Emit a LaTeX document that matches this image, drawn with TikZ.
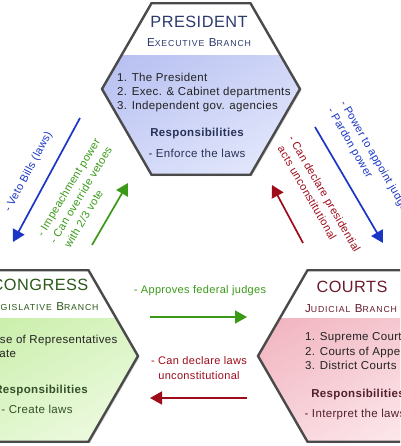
\documentclass[tikz,border=0pt]{standalone}
\usepackage{fontspec}
\setmainfont{Liberation Sans}[LetterSpace=3]
\usepackage{tikz}
\usetikzlibrary{arrows.meta,shapes.geometric,shadows}
\definecolor{presblue}{HTML}{B2BCF0}
\definecolor{preslight}{HTML}{E0E5FB}
\definecolor{presink}{HTML}{2C3A6E}
\definecolor{presresp}{HTML}{283258}
\definecolor{congreen}{HTML}{C2EC9E}
\definecolor{conlight}{HTML}{EAF9DC}
\definecolor{conink}{HTML}{2A5818}
\definecolor{conresp}{HTML}{33502A}
\definecolor{courtpink}{HTML}{F0B0BC}
\definecolor{courtlight}{HTML}{FCE6EA}
\definecolor{courtink}{HTML}{6A1C2C}
\definecolor{courtresp}{HTML}{52202E}
\definecolor{hexborder}{HTML}{4A4A4A}
\definecolor{arrowblue}{HTML}{1B36C6}
\definecolor{arrowgreen}{HTML}{3A9A18}
\definecolor{arrowred}{HTML}{9E0C1C}
\definecolor{listgray}{HTML}{222222}
\newcommand\capsc[2]{#1{\fontsize{8.7}{10}\selectfont #2}}
\tikzset{
  branchhex/.style n args={3}{
    regular polygon,
    regular polygon sides=6,
    minimum size=198pt,
    inner sep=0pt,
    outer sep=0pt,
    draw=hexborder,
    line width=2.4pt,
    drop shadow={shadow xshift=1.5pt,shadow yshift=-1.5pt,opacity=0.3},
    path picture={
      \shade[top color=#1,bottom color=#2,shading angle=30]
        (path picture bounding box.south west) rectangle (path picture bounding box.north east);
      \fill[white] (path picture bounding box.north west)
        rectangle ([yshift=-#3]path picture bounding box.north east);
    }
  },
  branchtitle/.style={
    font=\fontsize{16.3}{18}\selectfont,
    anchor=base,
    inner sep=0pt
  },
  branchsub/.style={
    font=\fontsize{11.6}{13}\selectfont\addfontfeature{LetterSpace=10},
    anchor=base,
    inner sep=0pt
  },
  branchlist/.style={
    font=\fontsize{11.5}{14.3}\selectfont,
    align=left,
    anchor=north west,
    inner sep=0pt,
    text=listgray
  },
  resphead/.style={
    font=\bfseries\fontsize{11.5}{14}\selectfont,
    anchor=base,
    inner sep=0pt
  },
  respitem/.style={
    font=\fontsize{11.5}{14}\selectfont,
    anchor=base,
    inner sep=0pt
  },
  checknote/.style={
    font=\fontsize{11}{14.5}\selectfont,
    align=left,
    anchor=north west,
    inner sep=0pt
  },
  checkarrow/.style={
    -{Triangle[length=12pt,width=13pt]},
    line width=1.7pt
  }
}
\begin{document}
\begin{tikzpicture}[x=1pt,y=-1pt]
    \useasboundingbox (0,0) rectangle (400,446);
    \fill[white] (0,0) rectangle (400,446);
    \clip (0,0) rectangle (400,446);

    \node[branchhex={presblue}{preslight}{52pt}] (president) at (201,89) {};
    \node[branchhex={congreen}{conlight}{48pt}] (congress) at (39,356) {};
    \node[branchhex={courtpink}{courtlight}{48pt}] (courts) at (357,356) {};

    \node[branchtitle, text=presink] (prestitle) at (199,28) {PRESIDENT};
    \node[branchsub, text=presink] (pressub) at (199,47) {\capsc{E}{XECUTIVE} \capsc{B}{RANCH}};
    \node[branchlist] (preslist) at (117,72.6) {1. The President\\2. Exec. \& Cabinet departments\\3. Independent gov. agencies};
    \node[resphead, text=presresp] (presresp) at (197,137) {Responsibilities};
    \node[respitem, text=presresp] (presduty) at (197,158) {- Enforce the laws};

    \node[branchtitle, text=conink] (contitle) at (40,290) {CONGRESS};
    \node[branchsub, text=conink] (consub) at (43,310) {\capsc{L}{EGISLATIVE} \capsc{B}{RANCH}};
    \node[branchlist] (conlist) at (-37,334.6) {1. House of Representatives\\2. Senate};
    \node[resphead, text=conresp] (conresp) at (41,393) {Responsibilities};
    \node[respitem, text=conresp] (conduty) at (37,413) {- Create laws};

    \node[branchtitle, text=courtink] (courttitle) at (352,292) {COURTS};
    \node[branchsub, text=courtink] (courtsub) at (351,312) {\capsc{J}{UDICIAL} \capsc{B}{RANCH}};
    \node[branchlist] (courtlist) at (305,332.6) {1. Supreme Courts\\2. Courts of Appeals\\3. District Courts};
    \node[resphead, text=courtresp] (courtresp) at (358,397) {Responsibilities};
    \node[respitem, text=courtresp] (courtduty) at (355,417) {- Interpret the laws};

    \coordinate (vetotail) at (80,118);
    \coordinate (vetotip) at (13,242);
    \coordinate (impeachtail) at (92,245);
    \coordinate (impeachtip) at (128,183);
    \coordinate (reviewtail) at (303,243);
    \coordinate (reviewtip) at (272,185);
    \coordinate (appointtail) at (315,127);
    \coordinate (appointtip) at (383,243);
    \coordinate (approvetail) at (150,317);
    \coordinate (approvetip) at (247,317);
    \coordinate (lawstail) at (247,398);
    \coordinate (lawstip) at (150,398);

    \draw[checkarrow, draw=arrowblue] (vetotail) -- (vetotip);
    \draw[checkarrow, draw=arrowgreen] (impeachtail) -- (impeachtip);
    \draw[checkarrow, draw=arrowred] (reviewtail) -- (reviewtip);
    \draw[checkarrow, draw=arrowblue] (appointtail) -- (appointtip);
    \draw[checkarrow, draw=arrowgreen] (approvetail) -- (approvetip);
    \draw[checkarrow, draw=arrowred] (lawstail) -- (lawstip);

    \node[checknote, anchor=base west, rotate=62, text=arrowblue] (vetonote) at (10,213) {- Veto Bills (laws)};
    \node[checknote, rotate=59, text=arrowgreen] (impeachnote) at (36,233) {- Impeachment power\\- Can override vetoes\\\hspace{4pt}with 2/3 vote};
    \node[checknote, rotate=-60, text=arrowred] (reviewnote) at (295,134) {- Can declare presidential\\\hspace{4pt}acts unconstitutional};
    \node[checknote, rotate=-60, text=arrowblue] (appointnote) at (347,99) {- Power to appoint judges\\- Pardon power};
    \node[checknote, anchor=base, text=arrowgreen] (approvenote) at (200,293) {- Approves federal judges};
    \node[checknote, align=center, anchor=north, text=arrowred] (lawsnote) at (199,356.7) {- Can declare laws\\unconstitutional};
\end{tikzpicture}
\end{document}
